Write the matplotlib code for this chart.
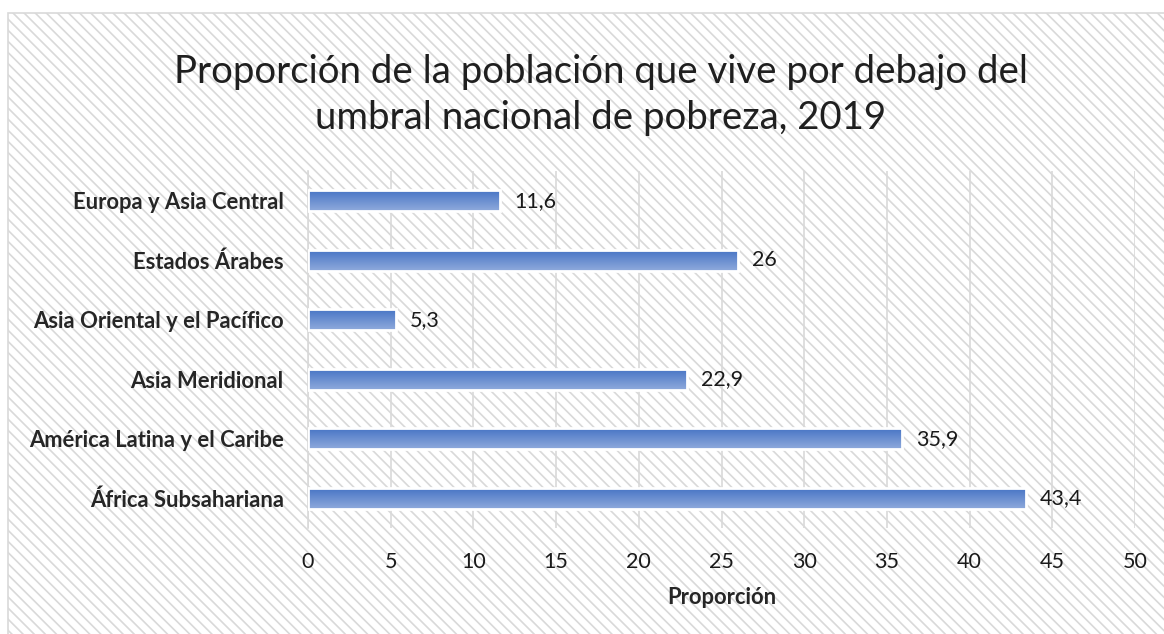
import matplotlib
matplotlib.use("Agg")
import matplotlib.pyplot as plt
import numpy as np
from matplotlib.patches import Rectangle
from matplotlib.colors import LinearSegmentedColormap

categories = ["Europa y Asia Central", "Estados Árabes", "Asia Oriental y el Pacífico",
              "Asia Meridional", "América Latina y el Caribe", "África Subsahariana"]
values = [11.6, 26, 5.3, 22.9, 35.9, 43.4]
value_labels = ["11,6", "26", "5,3", "22,9", "35,9", "43,4"]
xticks = [0, 5, 10, 15, 20, 25, 30, 35, 40, 45, 50]
title = "Proporción de la población que vive por debajo del\numbral nacional de pobreza, 2019"
xlabel = "Proporción"

FONT = ["Lato", "DejaVu Sans"]
plt.rcParams['font.family'] = FONT
plt.rcParams['hatch.linewidth'] = 1.2
plt.rcParams['hatch.color'] = '#e6e6e6'

fig = plt.figure(figsize=(11.64, 6.34), dpi=100)
W, H = 1164, 634
# chart area background with hatch
bg = Rectangle((8 / W, -0.01), 1.02 - 8 / W, 1.01 - 13 / H, transform=fig.transFigure,
               facecolor='white', edgecolor='#d9d9d9', hatch='\\' * 3, linewidth=1.2,
               zorder=-5)
fig.patches.append(bg)

ax = fig.add_axes([308 / W, 1 - 528 / H, (1135 - 308) / W, (528 - 171) / H])
ax.set_zorder(2)
ax.patch.set_alpha(0)

y = np.arange(len(categories))
bars = ax.barh(y, values, height=0.36, color='none', edgecolor='white', linewidth=2.0, zorder=3)
cmap = LinearSegmentedColormap.from_list('g', ['#4472C4', '#8FAADC'])
grad = np.linspace(0, 1, 64).reshape(-1, 1)
for b in bars:
    x0, y0 = b.get_x(), b.get_y()
    w, h = b.get_width(), b.get_height()
    im = ax.imshow(grad, cmap=cmap, aspect='auto', extent=[x0, x0 + w, y0 + h, y0],
                   origin='upper', zorder=2)
    im.set_clip_path(b)

ax.set_xlim(0, 50)
ax.set_ylim(len(categories) - 0.5, -0.5)
ax.set_xticks(xticks)
ax.set_xticklabels([str(t) for t in xticks], fontsize=15.5, color='#1a1a1a')
ax.set_yticks(y)
ax.set_yticklabels(categories, fontsize=15.8, fontweight='bold', color='#262626')
ax.tick_params(axis='both', length=0)
ax.tick_params(axis='y', pad=17.5)
ax.tick_params(axis='x', pad=17)
ax.grid(axis='x', color='#d9d9d9', linewidth=1.2, zorder=1)
ax.set_axisbelow(True)
for s in ['top', 'right', 'bottom']:
    ax.spines[s].set_visible(False)
ax.spines['left'].set_color('#d9d9d9')
ax.spines['left'].set_linewidth(1.2)

for yi, v, lab in zip(y, values, value_labels):
    ax.text(v + 0.85, yi, lab, va='center', ha='left', fontsize=15.5, color='#1a1a1a')

ax.set_xlabel(xlabel, fontsize=15.8, fontweight='bold', color='#262626', labelpad=11)

fig.text(601 / W, 1 - 95 / H, title, ha='center', va='center', fontsize=27.6,
         color='#1f1f1f', linespacing=1.32)

fig.savefig("out.png", dpi=100, facecolor='white')
